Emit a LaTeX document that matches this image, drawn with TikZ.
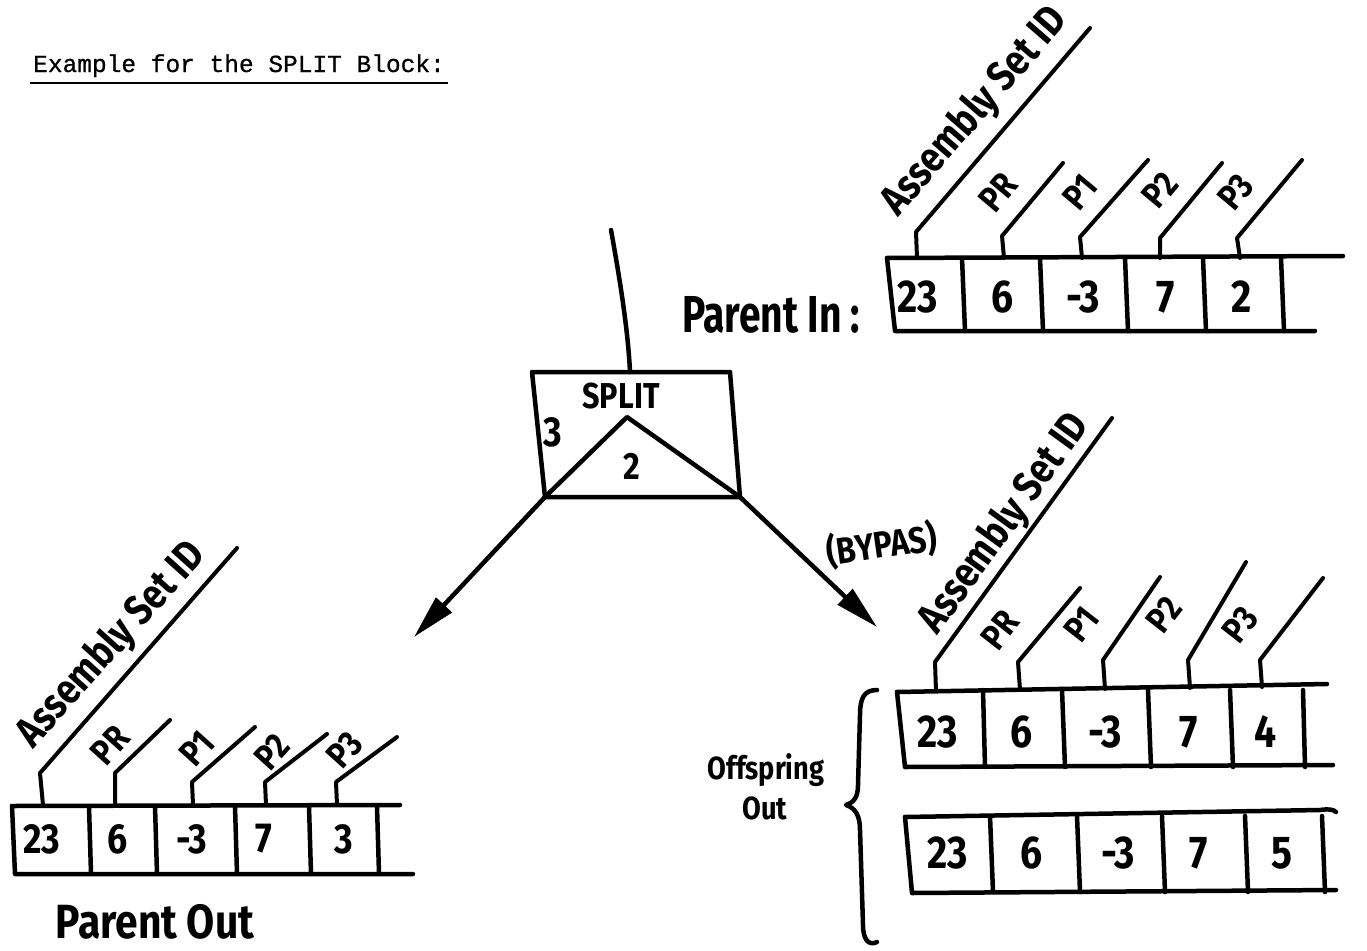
\documentclass[tikz,border=0pt]{standalone}
\usepackage{fontspec}
\setmainfont{Liberation Serif}
\newfontfamily\monofont{Liberation Mono}[FakeBold=0.8]
\newfontfamily\hand{Fira Sans}[FakeStretch=0.85]
\newfontfamily\handn{Fira Sans}[FakeStretch=0.75]
\usetikzlibrary{arrows.meta,calc}
\tikzset{
  ink/.style={line width=4.5pt,line cap=round,line join=round},
  stemline/.style={line width=4pt,line cap=round,line join=round},
  lab/.style={font=\hand\bfseries\fontsize{36}{36}\selectfont,inner sep=0pt},
  longlab/.style={font=\hand\bfseries\fontsize{42}{42}\selectfont,inner sep=0pt},
  val/.style={font=\hand\bfseries\fontsize{46}{46}\selectfont,inner sep=0pt},
  valsmall/.style={font=\hand\bfseries\fontsize{42}{42}\selectfont,inner sep=0pt},
  caption/.style={font=\handn\bfseries\fontsize{52}{52}\selectfont,inner sep=0pt},
  small/.style={font=\hand\bfseries\fontsize{32}{32}\selectfont,inner sep=0pt},
  arrowline/.style={ink,-{Triangle[length=44pt,width=21pt]}},
}
\begin{document}
\begin{tikzpicture}[x=1pt,y=-1pt]
\fill[white] (0,0) rectangle (1367,950);
\useasboundingbox (0,0) rectangle (1367,950);

% title
\node[font=\monofont\fontsize{24.5}{24.5}\selectfont,anchor=base west,inner sep=0pt] (title) at (33,72) {Example for the SPLIT Block:};
\draw[line width=2.2pt] (30,83) -- (448,83);

% SPLIT block
\coordinate (stl) at (532,372);
\coordinate (str) at (730,372);
\coordinate (sbr) at (740,497);
\coordinate (sbl) at (545,497);
\coordinate (apex) at (627,417);
\coordinate (stop) at (630,372);
\coordinate (feed) at (611,230);
\draw[ink] (stl) -- (str) -- (sbr) -- (sbl) -- cycle;
\draw[ink] (sbl) -- (apex) -- (sbr);
\draw[ink] (feed) .. controls (620,280) and (628,330) .. (stop);
\node[small,font=\hand\bfseries\fontsize{36}{36}\selectfont] (splitlabel) at (621,396) {SPLIT};
\node[val,font=\hand\bfseries\fontsize{42}{42}\selectfont] (splitthree) at (553,432) {3};
\node[val,font=\hand\bfseries\fontsize{38}{38}\selectfont] (splittwo) at (632,466) {2};
\coordinate (ltip) at (414,637);
\coordinate (rtip) at (877,627);
\draw[arrowline] (sbl) -- (ltip);
\draw[arrowline] (sbr) -- (rtip);
\node[small,font=\hand\bfseries\fontsize{37}{37}\selectfont,rotate=8] (bypas) at (882,545) {(BYPAS)};

% ---------- Parent In record ----------
\draw[ink] (887,258) -- (1343,256);
\draw[ink] (887,258) -- (895,331) -- (1315,331);
\foreach \a/\b in {962/965,1040/1043,1125/1128,1203/1206,1281/1284}
  \draw[ink] (\a,258) -- (\b,331);
\foreach \v/\x [count=\i] in {23/918,6/1003,-3/1083,7/1166,2/1242}
  \node[val] (pa\i) at (\x,297) {\v};
\draw[stemline] (917,258) -- (916,232) -- (1090,28);
\draw[stemline] (1004,258) -- (1002,236) -- (1063,163);
\draw[stemline] (1082,258) -- (1080,237) -- (1148,160);
\draw[stemline] (1160,258) -- (1160,238) -- (1222,163);
\draw[stemline] (1240,258) -- (1237,238) -- (1302,160);
\node[longlab,rotate=49] (paasid) at (975,112) {Assembly Set ID};
\node[lab,rotate=50] (papr) at (998,192) {PR};
\node[lab,rotate=50] (pap1) at (1080,192) {P1};
\node[lab,rotate=50] (pap2) at (1160,190) {P2};
\node[lab,rotate=50] (pap3) at (1236,192) {P3};
\node[caption,anchor=base west] (parentin) at (682,332) {Parent In :};

% ---------- Offspring record 1 (BYPAS) ----------
\draw[ink] (897,692) -- (1327,684);
\draw[ink] (897,692) -- (905,767) -- (1333,765);
\foreach \a/\b in {983/985,1062/1065,1148/1151,1230/1233,1303/1305}
  \draw[ink] (\a,690) -- (\b,767);
\foreach \v/\x [count=\i] in {23/938,6/1022,-3/1105,7/1189,4/1266}
  \node[val] (oa\i) at (\x,732) {\v};
\draw[stemline] (936,691) -- (935,662) -- (1112,418);
\draw[stemline] (1020,690) -- (1018,662) -- (1080,588);
\draw[stemline] (1105,689) -- (1103,660) -- (1160,577);
\draw[stemline] (1190,688) -- (1188,660) -- (1246,562);
\draw[stemline] (1262,687) -- (1260,660) -- (1323,578);
\node[longlab,rotate=54] (oaasid) at (1005,524) {Assembly Set ID};
\node[lab,rotate=52] (oapr) at (1000,630) {PR};
\node[lab,rotate=52] (oap1) at (1082,624) {P1};
\node[lab,rotate=52] (oap2) at (1164,615) {P2};
\node[lab,rotate=52] (oap3) at (1240,625) {P3};

% ---------- Offspring record 2 ----------
\draw[ink] (905,817) -- (1320,810) .. controls (1328,809) and (1333,809) .. (1336,812);
\draw[ink] (905,817) -- (912,893) -- (1336,890);
\foreach \a/\b in {990/993,1077/1080,1162/1165,1245/1248,1322/1325}
  \draw[ink] (\a,816) -- (\b,892);
\foreach \v/\x [count=\i] in {23/948,6/1032,-3/1118,7/1199,5/1282}
  \node[val] (ob\i) at (\x,853) {\v};

% brace and label
\draw[ink] (877,690) .. controls (864,690) and (860,698) .. (860,715)
  -- (858,785) .. controls (858,798) and (853,803) .. (846,805)
  .. controls (855,808) and (860,815) .. (860,830)
  -- (863,925) .. controls (863,940) and (869,946) .. (877,942);
\node[small] (offspring) at (766,770) {Offspring};
\node[small] (offout) at (765,808) {Out};

% ---------- Parent Out record ----------
\draw[ink] (12,806) -- (400,805);
\draw[ink] (12,806) -- (15,874) -- (413,874);
\foreach \a/\b in {89/91,155/157,235/237,309/311,377/379}
  \draw[ink] (\a,806) -- (\b,874);
\foreach \v/\x [count=\i] in {23/42,6/118,-3/192,7/264,3/344}
  \node[valsmall] (po\i) at (\x,839) {\v};
\draw[stemline] (43,805) -- (40,773) -- (237,548);
\draw[stemline] (115,805) -- (115,773) -- (170,720);
\draw[stemline] (193,805) -- (192,782) -- (255,727);
\draw[stemline] (266,805) -- (265,782) -- (327,734);
\draw[stemline] (337,805) -- (336,782) -- (397,737);
\node[longlab,rotate=48] (poasid) at (112,645) {Assembly Set ID};
\node[lab,rotate=48] (popr) at (110,745) {PR};
\node[lab,rotate=48] (pop1) at (197,748) {P1};
\node[lab,rotate=48] (pop2) at (272,752) {P2};
\node[lab,rotate=48] (pop3) at (345,750) {P3};
\node[caption,font=\hand\bfseries\fontsize{48}{48}\selectfont] (parentout) at (155,922) {Parent Out};
\end{tikzpicture}
\end{document}
